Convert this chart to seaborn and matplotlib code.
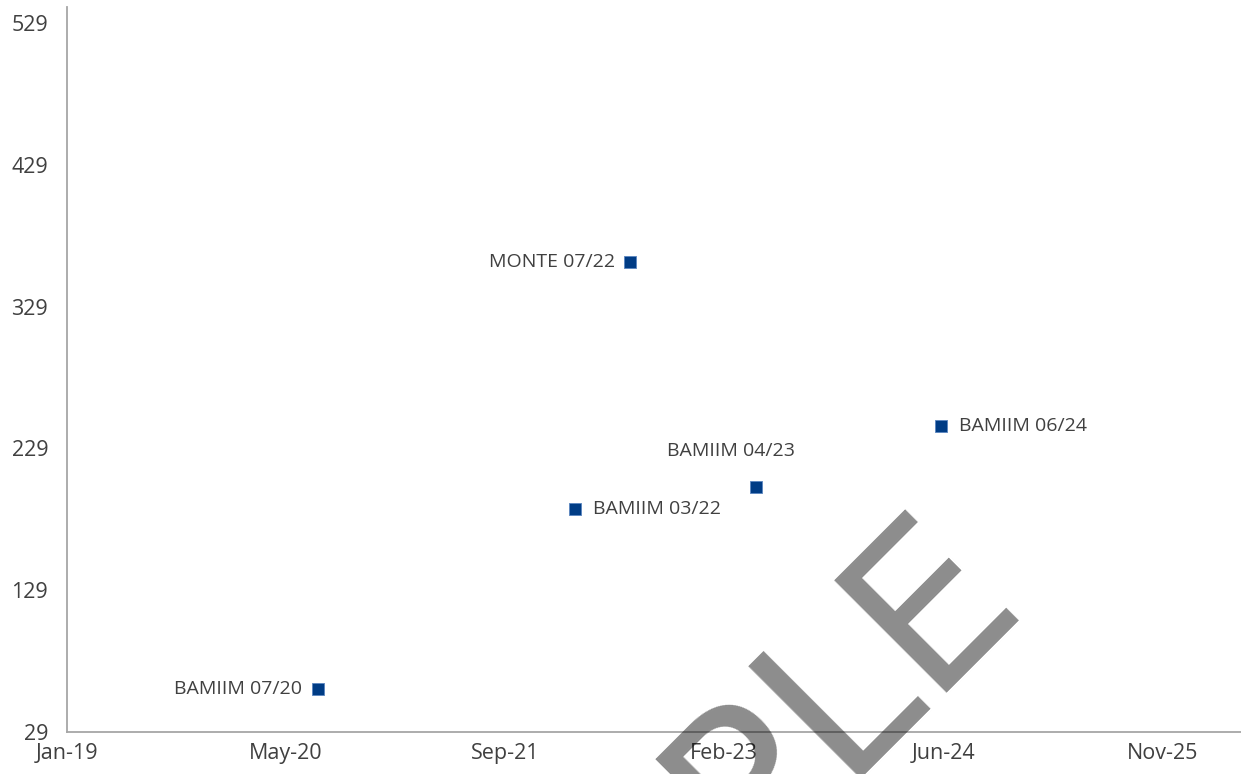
import matplotlib
matplotlib.use("Agg")
import matplotlib.pyplot as plt
import matplotlib.dates as mdates
import seaborn as sns
import pandas as pd
import numpy as np

# ---- data ----
labels = ["BAMIIM 07/20", "BAMIIM 03/22", "MONTE 07/22", "BAMIIM 04/23", "BAMIIM 06/24"]
dates = ["2020-07-27", "2022-03-05", "2022-07-08", "2023-04-22", "2024-06-18"]
values = [59.3, 186.0, 360.4, 201.7, 245.1]
y_ticks = [29, 129, 229, 329, 429, 529]
x_start = "2019-01-01"
x_step_days = 500

df = pd.DataFrame({"date": pd.to_datetime(dates), "value": values, "label": labels})

sns.set_theme(style="white")
plt.rcParams["font.family"] = ["Open Sans", "DejaVu Sans"]

W, H, DPI = 1241, 774, 100
fig = plt.figure(figsize=(W / DPI, H / DPI), dpi=DPI)
ax_left, ax_right = 66.7 / W, 1.0
ax_bottom, ax_top = (H - 731.7) / H, (H - 7) / H
ax = fig.add_axes([ax_left, ax_bottom, ax_right - ax_left, ax_top - ax_bottom])

sns.scatterplot(data=df, x="date", y="value", marker="s", s=80, color="#003C85",
                edgecolor="#5b86c0", linewidth=0.6, ax=ax, zorder=3, legend=False)

# axes
x0 = pd.Timestamp(x_start)
ticks = [x0 + pd.Timedelta(days=x_step_days * i) for i in range(6)]
ax.set_xlim(x0, x0 + pd.Timedelta(days=2679))
ax.set_xticks(ticks)
ax.xaxis.set_major_formatter(mdates.DateFormatter("%b-%y"))
ax.set_ylim(29, 540.5)
ax.set_yticks(y_ticks)
ax.set_xlabel("")
ax.set_ylabel("")

for s in ["top", "right"]:
    ax.spines[s].set_visible(False)
for s in ["left", "bottom"]:
    ax.spines[s].set_color("#a6a6a6")
    ax.spines[s].set_linewidth(1.3)
ax.tick_params(axis="both", which="major", direction="out", length=4.3, width=1.1,
               color="#a6a6a6", labelsize=15.5, labelcolor="#404040")
ax.tick_params(axis="y", pad=9)
ax.tick_params(axis="x", pad=4)
ax.grid(False)

# data labels (offset in pixels)
offsets = {
    "BAMIIM 07/20": (-16, 0, "right", "center"),
    "BAMIIM 03/22": (18, 0, "left", "center"),
    "MONTE 07/22": (-14, 0, "right", "center"),
    "BAMIIM 04/23": (-25, 36, "center", "center"),
    "BAMIIM 06/24": (18, 0, "left", "center"),
}
for _, r in df.iterrows():
    dx, dy, ha, va = offsets[r["label"]]
    ax.annotate(r["label"], xy=(r["date"], r["value"]), xytext=(dx, dy),
                textcoords="offset pixels", ha=ha, va=va, fontsize=14,
                color="#404040")

# watermark
fig.text(1026 / W, 1 - 600 / H, "SAMPLE", rotation=45, rotation_mode="anchor",
         ha="right", va="baseline", fontsize=157, color="black", alpha=0.45,
         family=["DejaVu Sans"], zorder=10)

fig.savefig("out.png", dpi=DPI)
